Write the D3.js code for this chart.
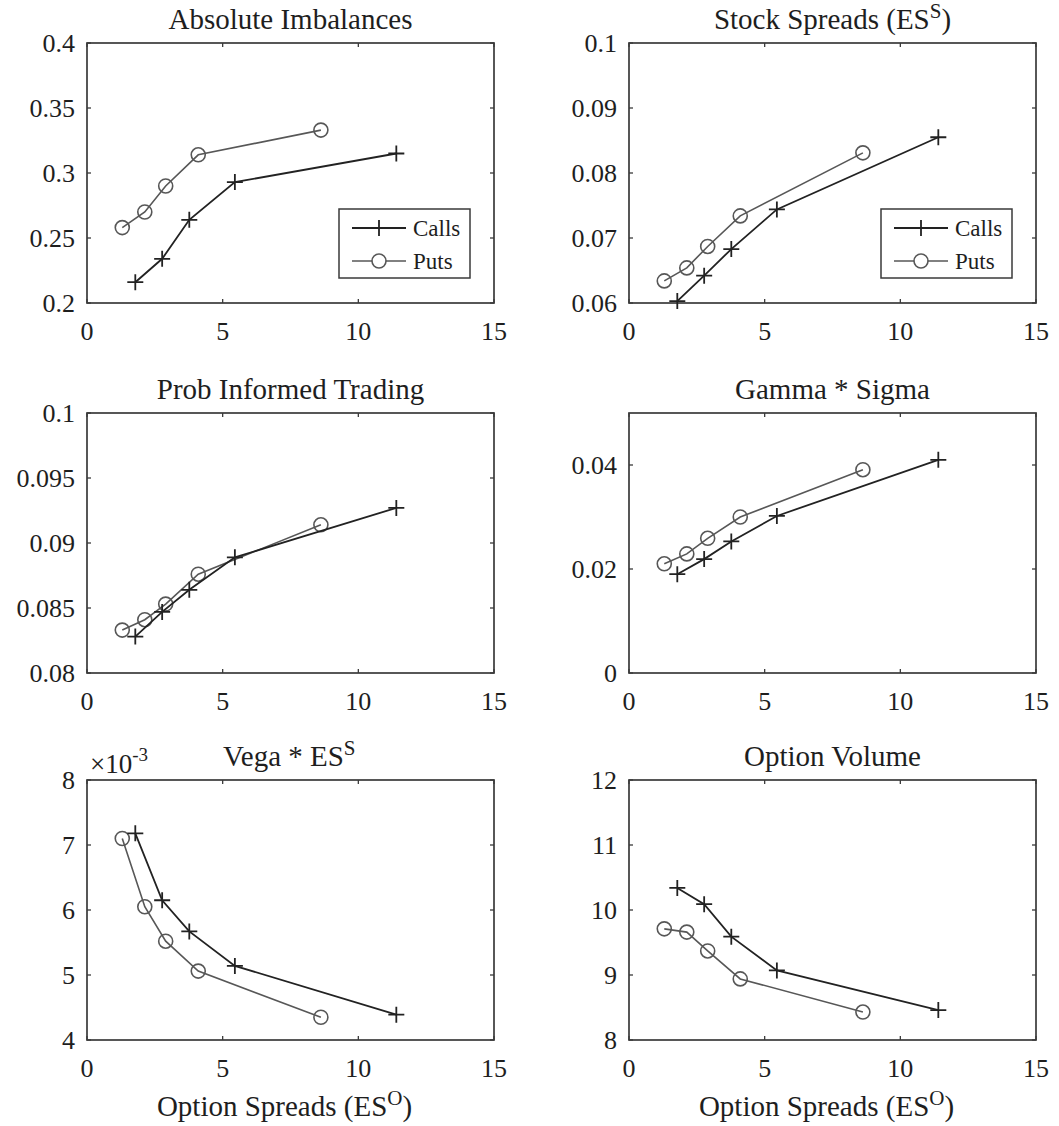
<!DOCTYPE html>
<html>
<head>
<meta charset="utf-8">
<script src="https://cdn.jsdelivr.net/npm/d3@7"></script>
<style>
  body { margin: 0; background: #fff; }
</style>
</head>
<body>
<svg id="chart" width="1059" height="1126"></svg>
<script>
// x positions (option spread quintiles)
var callsX = [1.78, 2.77, 3.77, 5.45, 11.4]
var putsX = [1.3, 2.13, 2.9, 4.1, 8.62]

var xTicks = [0, 5, 10, 15]

// series values per panel
var absImbCalls = [0.216, 0.234, 0.264, 0.293, 0.315]
var absImbPuts = [0.258, 0.270, 0.290, 0.314, 0.333]

var stockSprCalls = [0.0603, 0.0642, 0.0683, 0.0744, 0.0855]
var stockSprPuts = [0.0634, 0.0654, 0.0687, 0.0734, 0.0831]

var pinCalls = [0.0828, 0.0847, 0.0864, 0.0889, 0.0927]
var pinPuts = [0.0833, 0.0841, 0.0853, 0.0876, 0.0914]

var gammaCalls = [0.0190, 0.0219, 0.0253, 0.0302, 0.0410]
var gammaPuts = [0.0210, 0.0229, 0.0259, 0.0300, 0.0391]

var vegaCalls = [0.00718, 0.00615, 0.00567, 0.00514, 0.00439]
var vegaPuts = [0.00710, 0.00605, 0.00552, 0.00506, 0.00435]

var volCalls = [10.34, 10.09, 9.59, 9.07, 8.46]
var volPuts = [9.71, 9.66, 9.37, 8.94, 8.43]

// y tick values
var absImbTicks = [0.2, 0.25, 0.3, 0.35, 0.4]
var stockSprTicks = [0.06, 0.07, 0.08, 0.09, 0.1]
var pinTicks = [0.08, 0.085, 0.09, 0.095, 0.1]
var gammaTicks = [0, 0.02, 0.04]
var vegaTicks = [0.004, 0.005, 0.006, 0.007, 0.008]
var volTicks = [8, 9, 10, 11, 12]

var panels = [
  {title: ["Absolute Imbalances"], calls: absImbCalls, puts: absImbPuts, domain: [0.2, 0.4], ticks: absImbTicks, fmt: String, col: 0, row: 0, legend: true},
  {title: ["Stock Spreads (ES", "S", ")"], calls: stockSprCalls, puts: stockSprPuts, domain: [0.06, 0.1], ticks: stockSprTicks, fmt: String, col: 1, row: 0, legend: true},
  {title: ["Prob Informed Trading"], calls: pinCalls, puts: pinPuts, domain: [0.08, 0.1], ticks: pinTicks, fmt: String, col: 0, row: 1},
  {title: ["Gamma * Sigma"], calls: gammaCalls, puts: gammaPuts, domain: [0, 0.05], ticks: gammaTicks, fmt: String, col: 1, row: 1},
  {title: ["Vega * ES", "S", ""], calls: vegaCalls, puts: vegaPuts, domain: [0.004, 0.008], ticks: vegaTicks, fmt: function(d){ return String(Math.round(d * 1000)) }, col: 0, row: 2, exponent: true, xlabel: true},
  {title: ["Option Volume"], calls: volCalls, puts: volPuts, domain: [8, 12], ticks: volTicks, fmt: String, col: 1, row: 2, xlabel: true}
]

var colLeft = [87, 629]
var rowTop = [43, 413, 780]
var w = 407, h = 260
var callsColor = "#222", putsColor = "#575757", axisColor = "#3a3a3a", textColor = "#1e1e1e"
var serif = "Liberation Serif"

var svg = d3.select("#chart")

function txt(sel) {
  return sel.append("text").attr("font-family", serif).attr("fill", textColor)
}

function plusPath(s) {
  return "M" + (-s) + ",0H" + s + "M0," + (-s) + "V" + s
}

function addSup(sel, parts, mainSize, supSize) {
  sel.append("tspan").text(parts[0])
  if (parts.length > 1) {
    sel.append("tspan").attr("dy", -mainSize * 0.38).attr("font-size", supSize).text(parts[1])
    sel.append("tspan").attr("dy", mainSize * 0.38).text(parts[2] || "\u200a")
  }
}

panels.forEach(function(p) {
  var g = svg.append("g").attr("transform", "translate(" + colLeft[p.col] + "," + rowTop[p.row] + ")")
  var x = d3.scaleLinear().domain([0, 15]).range([0, w])
  var y = d3.scaleLinear().domain(p.domain).range([h, 0])

  // inward ticks on all four sides
  var tk = 4
  var ax = g.append("g").attr("stroke", axisColor).attr("stroke-width", 1.3)
  xTicks.forEach(function(t) {
    ax.append("line").attr("x1", x(t)).attr("x2", x(t)).attr("y1", h).attr("y2", h - tk)
    ax.append("line").attr("x1", x(t)).attr("x2", x(t)).attr("y1", 0).attr("y2", tk)
  })
  p.ticks.forEach(function(t) {
    ax.append("line").attr("x1", 0).attr("x2", tk).attr("y1", y(t)).attr("y2", y(t))
    ax.append("line").attr("x1", w).attr("x2", w - tk).attr("y1", y(t)).attr("y2", y(t))
  })
  g.append("rect").attr("width", w).attr("height", h)
    .attr("fill", "none").attr("stroke", axisColor).attr("stroke-width", 1.7)

  // tick labels
  xTicks.forEach(function(t) {
    txt(g).attr("x", x(t)).attr("y", h + 37)
      .attr("text-anchor", "middle").attr("font-size", 26).text(String(t))
  })
  p.ticks.forEach(function(t) {
    txt(g).attr("x", -12).attr("y", y(t) + 9)
      .attr("text-anchor", "end").attr("font-size", 26).text(p.fmt(t))
  })

  // title
  var tt = txt(g).attr("x", w / 2).attr("y", -14)
    .attr("text-anchor", "middle").attr("font-size", 29)
  addSup(tt, p.title, 29, 21)

  if (p.exponent) {
    var ex = txt(g).attr("x", 3).attr("y", -7).attr("font-size", 27)
    ex.append("tspan").text("\u00d710")
    ex.append("tspan").attr("dy", -12).attr("font-size", 19).text("-3")
  }

  if (p.xlabel) {
    var xl = txt(g).attr("x", w / 2 - 6).attr("y", h + 76)
      .attr("text-anchor", "middle").attr("font-size", 29)
    addSup(xl, ["Option Spreads (ES", "O", ")"], 29, 21)
  }

  var line = d3.line().x(function(d) { return x(d[0]) }).y(function(d) { return y(d[1]) })
  var callsPts = d3.zip(callsX, p.calls)
  var putsPts = d3.zip(putsX, p.puts)

  g.append("path").datum(putsPts).attr("d", line)
    .attr("fill", "none").attr("stroke", putsColor).attr("stroke-width", 1.6)
  g.selectAll(".pc").data(putsPts).enter().append("circle")
    .attr("cx", function(d) { return x(d[0]) }).attr("cy", function(d) { return y(d[1]) })
    .attr("r", 7).attr("fill", "none").attr("stroke", putsColor).attr("stroke-width", 1.6)

  g.append("path").datum(callsPts).attr("d", line)
    .attr("fill", "none").attr("stroke", callsColor).attr("stroke-width", 1.8)
  g.selectAll(".cc").data(callsPts).enter().append("path")
    .attr("transform", function(d) { return "translate(" + x(d[0]) + "," + y(d[1]) + ")" })
    .attr("d", plusPath(8)).attr("fill", "none").attr("stroke", callsColor).attr("stroke-width", 1.8)

  if (p.legend) {
    var lg = g.append("g").attr("transform", "translate(252,166)")
    lg.append("rect").attr("width", 131).attr("height", 69)
      .attr("fill", "#fff").attr("stroke", axisColor).attr("stroke-width", 1.5)
    lg.append("line").attr("x1", 13).attr("x2", 67).attr("y1", 19).attr("y2", 19)
      .attr("stroke", callsColor).attr("stroke-width", 1.8)
    lg.append("path").attr("transform", "translate(40,19)").attr("d", plusPath(8))
      .attr("stroke", callsColor).attr("stroke-width", 1.8)
    txt(lg).attr("x", 74).attr("y", 27).attr("font-size", 23).text("Calls")
    lg.append("line").attr("x1", 13).attr("x2", 67).attr("y1", 52).attr("y2", 52)
      .attr("stroke", putsColor).attr("stroke-width", 1.6)
    lg.append("circle").attr("cx", 40).attr("cy", 52).attr("r", 7)
      .attr("fill", "#fff").attr("stroke", putsColor).attr("stroke-width", 1.6)
    txt(lg).attr("x", 74).attr("y", 60).attr("font-size", 23).text("Puts")
  }
})
</script>
</body>
</html>
